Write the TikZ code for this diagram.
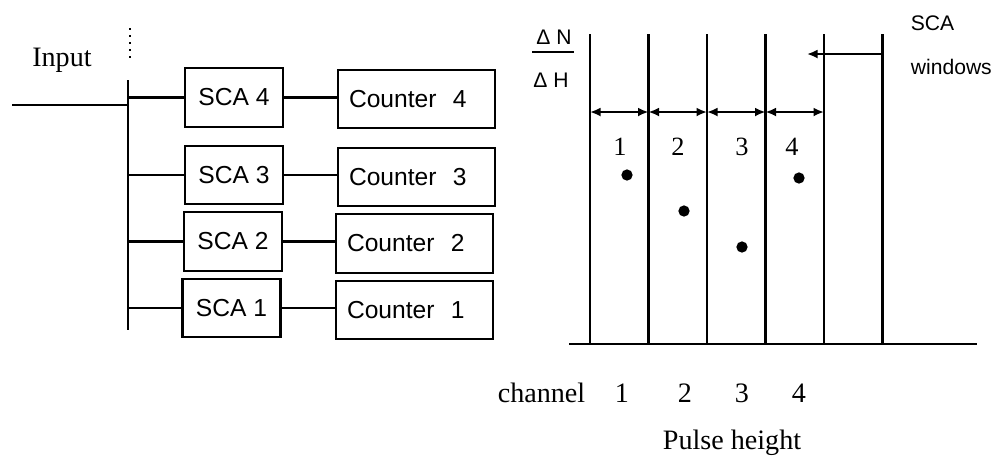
\documentclass[tikz,border=0pt]{standalone}
\usepackage{fontspec}
\setmainfont{Liberation Serif}
\setsansfont{Liberation Sans}
\usetikzlibrary{arrows.meta}
\begin{document}
\begin{tikzpicture}[line width=1.2pt, >={Latex[length=2.1mm,width=1.8mm]},
    scabox/.style={draw, minimum width=1.96cm, minimum height=1.17cm,
        font=\sffamily\fontsize{14}{16}\selectfont},
    cntbox/.style={draw, minimum height=1.17cm, text width=2.7cm, inner xsep=0.22cm,
        align=left, font=\sffamily\fontsize{14}{16}\selectfont},
    lbl/.style={font=\fontsize{16}{19}\selectfont},
    num/.style={font=\fontsize{15}{18}\selectfont},
    small/.style={font=\sffamily\fontsize{12}{14}\selectfont}]
    \useasboundingbox (0,0) rectangle (19.88,-9.14);

    % input and the bus feeding the single channel analysers
    \node[lbl] (input) at (1.24,-1.2) {Input};
    \coordinate (in) at (0.24,-2.1);
    \coordinate (bustop) at (2.56,-1.6);
    \coordinate (busbot) at (2.56,-6.6);
    \coordinate (more) at (2.6,-0.56);
    \draw[line width=1pt, dash pattern=on 1.3pt off 2.7pt] (more) -- ++(0,-0.68);
    \draw (in) -- (in -| bustop);
    \draw (bustop) -- (busbot);

    \node[scabox] (sca4) at (4.68,-1.95) {SCA 4};
    \node[scabox] (sca3) at (4.68,-3.50) {SCA 3};
    \node[scabox] (sca2) at (4.66,-4.83) {SCA 2};
    \node[scabox] (sca1) at (4.63,-6.16) {SCA 1};

    \node[cntbox] (cnt4) at (8.33,-1.98) {Counter\ \ 4};
    \node[cntbox] (cnt3) at (8.33,-3.54) {Counter\ \ 3};
    \node[cntbox] (cnt2) at (8.29,-4.87) {Counter\ \ 2};
    \node[cntbox] (cnt1) at (8.29,-6.20) {Counter\ \ 1};

    \foreach \i in {1,...,4} {
        \draw (sca\i.west -| bustop) -- (sca\i.west);
        \draw (sca\i.east) -- (sca\i.east -| cnt\i.west);
    }

    % pulse height spectrum with the SCA windows
    \node[small] (dn) at (11.08,-0.74) {Δ N};
    \node[small] (dh) at (11.02,-1.60) {Δ H};
    \draw (10.64,-1.04) -- (11.48,-1.04);

    \foreach \x in {11.80,12.97,14.14,15.31,16.48,17.65}
        \draw (\x,-0.68) -- (\x,-6.88);
    \draw (11.38,-6.88) -- (19.54,-6.88);
    \foreach \a/\b in {11.80/12.97,12.97/14.14,14.14/15.31,15.31/16.48}
        \draw[<->] (\a,-2.24) -- (\b,-2.24);
    \draw[->] (17.65,-1.08) -- (16.14,-1.08);
    \node[small, anchor=west] (sca) at (18.08,-0.46) {SCA};
    \node[small, anchor=west] (win) at (18.08,-1.34) {windows};

    \foreach \x/\n in {12.40/1,13.56/2,14.84/3,15.84/4}
        \node[num] (w\n) at (\x,-2.94) {\n};
    \filldraw (12.54,-3.50) circle (0.09);
    \filldraw (13.68,-4.22) circle (0.09);
    \filldraw (14.84,-4.94) circle (0.09);
    \filldraw (15.98,-3.56) circle (0.09);

    \node[lbl] (chan) at (10.83,-7.86) {channel};
    \foreach \x/\n in {12.44/1,13.70/2,14.84/3,15.98/4}
        \node[lbl] (c\n) at (\x,-7.86) {\n};
    \node[lbl] (ph) at (14.64,-8.86) {Pulse height};
\end{tikzpicture}
\end{document}
